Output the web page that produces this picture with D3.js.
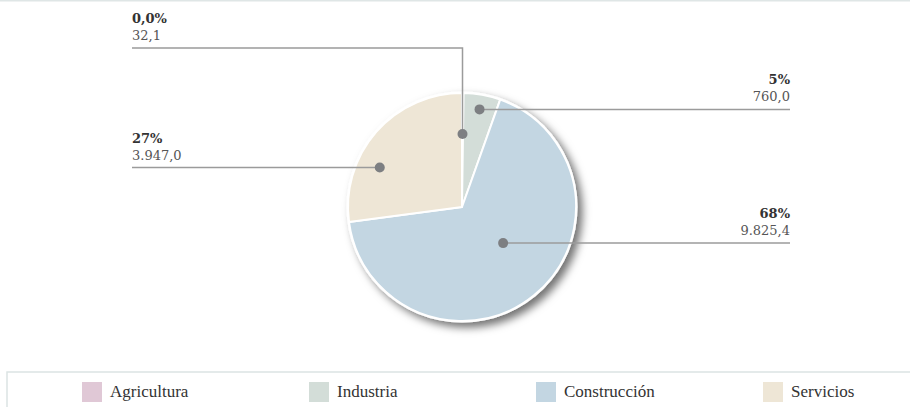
<!DOCTYPE html>
<html>
<head>
<meta charset="utf-8">
<script src="https://cdn.jsdelivr.net/npm/d3@7"></script>
<style>
  html, body { margin: 0; padding: 0; background: #fff; }
  svg { display: block; }
</style>
</head>
<body>
<svg id="chart" width="910" height="407"></svg>
<script>
// Sector breakdown
const categories = ["Agricultura", "Industria", "Construcción", "Servicios"];
const values = [32.1, 760.0, 9825.4, 3947.0];
const valueLabels = ["32,1", "760,0", "9.825,4", "3.947,0"];
const percentLabels = ["0,0%", "5%", "68%", "27%"];
const colors = ["#e0c8d6", "#d3ddd8", "#c3d6e2", "#eee6d6"];

// Callout layout: where on each slice the marker sits, and which side the text goes
const markerAngleFrac = [0.5, 0.5, 0.46, 0.34];
const markerRadiusFrac = [0.64, 0.87, 0.48, 0.80];
const labelSide = ["left", "right", "right", "left"];

const svg = d3.select("#chart");
const W = 910, H = 407;
const cx = 462, cy = 207, R = 114;
const leftX = 132, rightX = 790;
const elbowY = 48;
const serif = "'Liberation Serif', 'Times New Roman', Times, serif";

// top rule
svg.append("line").attr("x1", 0).attr("x2", W).attr("y1", 0.75).attr("y2", 0.75)
  .attr("stroke", "#dfe6e6").attr("stroke-width", 1.5);

const defs = svg.append("defs");
const f = defs.append("filter").attr("id", "shadow")
  .attr("x", "-30%").attr("y", "-30%").attr("width", "160%").attr("height", "160%");
f.append("feDropShadow").attr("dx", 5).attr("dy", 5).attr("stdDeviation", 4)
  .attr("flood-color", "#000").attr("flood-opacity", 0.55);

const pie = d3.pie().sort(null).value(d => d)(values);
const arc = d3.arc().innerRadius(0).outerRadius(R);

const g = svg.append("g").attr("transform", `translate(${cx},${cy})`);
// outer white rim with shadow
g.append("circle").attr("r", R + 1.5).attr("fill", "#fff").attr("filter", "url(#shadow)");
g.selectAll("path.slice").data(pie).join("path")
  .attr("class", "slice")
  .attr("d", arc)
  .attr("fill", (d, i) => colors[i])
  .attr("stroke", "#fff").attr("stroke-width", 2).attr("stroke-linejoin", "round");

// callouts
const markers = pie.map((d, i) => {
  const a = d.startAngle + markerAngleFrac[i] * (d.endAngle - d.startAngle);
  const r = markerRadiusFrac[i] * R;
  return [cx + r * Math.sin(a), cy - r * Math.cos(a)];
});

const lineColor = "#9b9b9b";
const callouts = svg.append("g");
markers.forEach((p, i) => {
  const side = labelSide[i];
  const endX = side === "left" ? leftX : rightX;
  let ly = p[1];
  let pts;
  if (i === 0) {
    ly = elbowY;
    pts = [[p[0], p[1]], [p[0], ly], [endX, ly]];
  } else {
    pts = [[p[0], p[1]], [endX, ly]];
  }
  callouts.append("path")
    .attr("d", d3.line()(pts))
    .attr("fill", "none").attr("stroke", lineColor).attr("stroke-width", 1.5);
  callouts.append("circle").attr("cx", p[0]).attr("cy", p[1]).attr("r", 5)
    .attr("fill", "#7d7f82");
  const anchor = side === "left" ? "start" : "end";
  callouts.append("text")
    .attr("x", endX).attr("y", ly - 25)
    .attr("text-anchor", anchor)
    .attr("font-family", "'DejaVu Serif', serif")
    .attr("font-size", 13).attr("font-weight", "bold").attr("fill", "#333")
    .text(percentLabels[i]);
  callouts.append("text")
    .attr("x", endX).attr("y", ly - 8)
    .attr("text-anchor", anchor)
    .attr("font-family", "'DejaVu Serif', serif")
    .attr("font-size", 13).attr("fill", "#555")
    .text(valueLabels[i]);
});

// legend
const legTop = 372, legLeft = 7;
svg.append("path")
  .attr("d", `M${legLeft},${H} L${legLeft},${legTop} L${W},${legTop}`)
  .attr("fill", "none").attr("stroke", "#dce4e4").attr("stroke-width", 1.5);

const legX = d3.scaleBand().domain(categories).range([legLeft, legLeft + 4 * 227]);
const items = svg.append("g").selectAll("g").data(categories).join("g")
  .attr("transform", d => `translate(${legX(d) + 75},0)`);
items.append("rect").attr("x", 0).attr("y", 382).attr("width", 20).attr("height", 20)
  .attr("fill", (d, i) => colors[i]);
items.append("text").attr("x", 28).attr("y", 397)
  .attr("font-family", serif).attr("font-size", 17).attr("fill", "#333")
  .text(d => d);
</script>
</body>
</html>
